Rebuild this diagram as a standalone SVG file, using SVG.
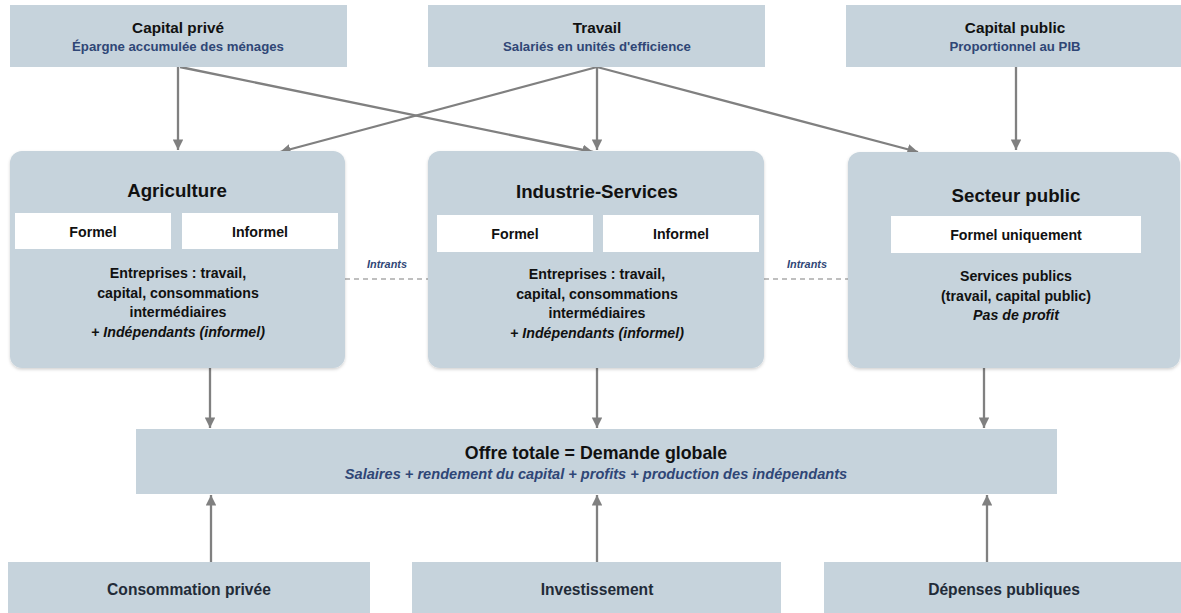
<svg xmlns="http://www.w3.org/2000/svg" width="1181" height="613" viewBox="0 0 1181 613">
<defs>
<marker id="ah" viewBox="0 0 10 10" refX="10" refY="5" markerWidth="4.6" markerHeight="4.6" markerUnits="strokeWidth" orient="auto">
<path d="M0,0 L10,5 L0,10 z" fill="#808080"/>
</marker>
<filter id="sh" x="-5%" y="-5%" width="110%" height="115%">
<feDropShadow dx="0" dy="1.5" stdDeviation="1.5" flood-color="#000" flood-opacity="0.18"/>
</filter>
<style>
text{font-family:"Liberation Sans",Arial,sans-serif;font-weight:bold;text-anchor:middle}
.box{fill:#c6d3dc}
.wb{fill:#ffffff}
.t1{font-size:15.3px;fill:#111}
.st{font-size:13.2px;fill:#2f4676}
.sec{font-size:18.7px;fill:#111}
.fm{font-size:14.2px;fill:#111}
.bd{font-size:14.2px;fill:#111}
.it{font-style:italic}
.intr{font-size:10.9px;fill:#2f4676;font-style:italic}
.of{font-size:17.8px;fill:#111}
.ost{font-size:14.6px;fill:#2f4676;font-style:italic}
.bt{font-size:15.6px;fill:#222b38}
.arr{stroke:#808080;stroke-width:2.3;fill:none;marker-end:url(#ah)}
.dash{stroke:#808080;stroke-width:1.2;stroke-dasharray:5,4;fill:none}
</style>
</defs>

<g id="connectors">
<line class="arr" x1="178" y1="67" x2="178" y2="150"/>
<line class="arr" x1="180" y1="67" x2="593" y2="152"/>
<line class="arr" x1="597" y1="67" x2="280" y2="152"/>
<line class="arr" x1="597" y1="67" x2="597" y2="150"/>
<line class="arr" x1="597" y1="67" x2="918" y2="152"/>
<line class="arr" x1="1016" y1="67" x2="1016" y2="150"/>
<line class="arr" x1="210" y1="368" x2="210" y2="428"/>
<line class="arr" x1="597" y1="368" x2="597" y2="428"/>
<line class="arr" x1="984" y1="368" x2="984" y2="428"/>
<line class="arr" x1="211" y1="562" x2="211" y2="495"/>
<line class="arr" x1="597" y1="562" x2="597" y2="495"/>
<line class="arr" x1="987" y1="562" x2="987" y2="495"/>
<line class="dash" x1="345" y1="279" x2="428" y2="279"/>
<line class="dash" x1="764" y1="279" x2="848" y2="279"/>
<text class="intr" x="387" y="268">Intrants</text>
<text class="intr" x="807" y="268">Intrants</text>
</g>

<g id="capital-prive">
<rect class="box" x="10" y="5" width="337" height="62"/>
<text class="t1" x="178" y="33">Capital privé</text>
<text class="st" x="178" y="51">Épargne accumulée des ménages</text>
</g>

<g id="travail">
<rect class="box" x="428" y="5" width="337" height="62"/>
<text class="t1" x="597" y="33">Travail</text>
<text class="st" x="597" y="51">Salariés en unités d'efficience</text>
</g>

<g id="capital-public">
<rect class="box" x="846" y="5" width="340" height="62"/>
<text class="t1" x="1015" y="33">Capital public</text>
<text class="st" x="1015" y="51">Proportionnel au PIB</text>
</g>

<g id="agriculture">
<rect class="box" x="10" y="151" width="335" height="217" rx="12" filter="url(#sh)"/>
<text class="sec" x="177" y="197">Agriculture</text>
<rect class="wb" x="15" y="213" width="156" height="36"/>
<rect class="wb" x="182" y="213" width="156" height="36"/>
<text class="fm" x="93" y="237">Formel</text>
<text class="fm" x="260" y="237">Informel</text>
<text class="bd" x="178" y="278">Entreprises : travail,</text>
<text class="bd" x="178" y="298">capital, consommations</text>
<text class="bd" x="178" y="317">intermédiaires</text>
<text class="bd it" x="178" y="337">+ Indépendants (informel)</text>
</g>

<g id="industrie-services">
<rect class="box" x="428" y="151" width="336" height="217" rx="12" filter="url(#sh)"/>
<text class="sec" x="597" y="198">Industrie-Services</text>
<rect class="wb" x="437" y="215" width="156" height="37"/>
<rect class="wb" x="603" y="215" width="156" height="37"/>
<text class="fm" x="515" y="239">Formel</text>
<text class="fm" x="681" y="239">Informel</text>
<text class="bd" x="597" y="279">Entreprises : travail,</text>
<text class="bd" x="597" y="299">capital, consommations</text>
<text class="bd" x="597" y="318">intermédiaires</text>
<text class="bd it" x="597" y="338">+ Indépendants (informel)</text>
</g>

<g id="secteur-public">
<rect class="box" x="848" y="152" width="332" height="216" rx="12" filter="url(#sh)"/>
<text class="sec" x="1016" y="202">Secteur public</text>
<rect class="wb" x="891" y="216" width="250" height="37"/>
<text class="fm" x="1016" y="240">Formel uniquement</text>
<text class="bd" x="1016" y="281">Services publics</text>
<text class="bd" x="1016" y="301">(travail, capital public)</text>
<text class="bd it" x="1016" y="320">Pas de profit</text>
</g>

<g id="offre-totale">
<rect class="box" x="136" y="429" width="921" height="65"/>
<text class="of" x="596" y="459">Offre totale = Demande globale</text>
<text class="ost" x="596" y="479">Salaires + rendement du capital + profits + production des indépendants</text>
</g>

<g id="consommation-privee">
<rect class="box" x="8" y="562" width="362" height="51"/>
<text class="bt" x="189" y="595">Consommation privée</text>
</g>

<g id="investissement">
<rect class="box" x="412" y="562" width="369" height="51"/>
<text class="bt" x="597" y="595">Investissement</text>
</g>

<g id="depenses-publiques">
<rect class="box" x="824" y="562" width="360" height="51"/>
<text class="bt" x="1004" y="595">Dépenses publiques</text>
</g>
</svg>
